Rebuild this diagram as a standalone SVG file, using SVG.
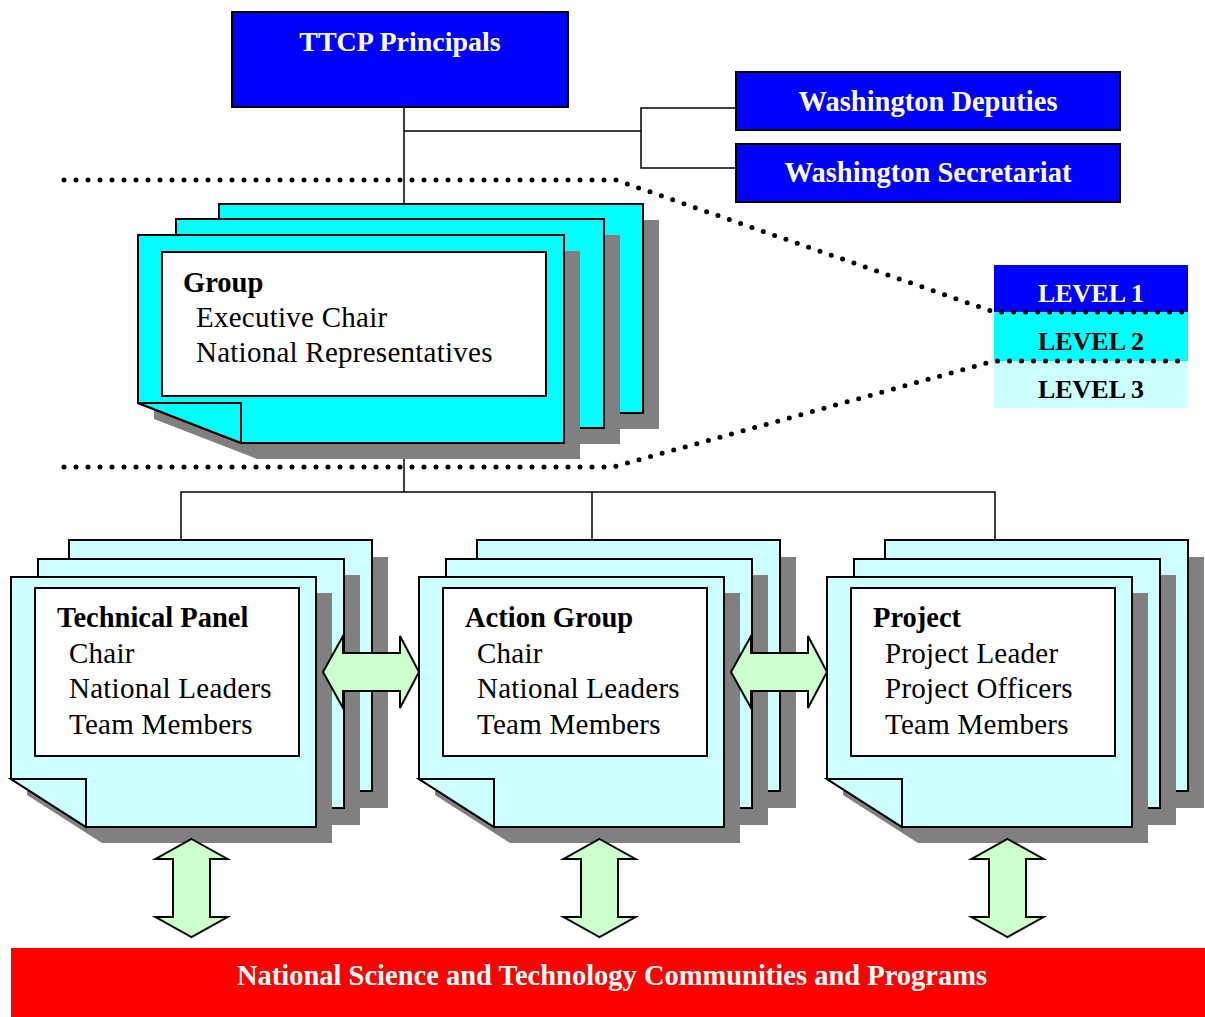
<svg xmlns="http://www.w3.org/2000/svg" xmlns:xlink="http://www.w3.org/1999/xlink" width="1205" height="1017" viewBox="0 0 1205 1017">
<style>
text{font-family:"Liberation Serif","Times New Roman",serif;font-size:29px;letter-spacing:0.25px;fill:#000}
.b{font-weight:bold;font-size:28.5px;letter-spacing:0}
.t{font-size:28px}
.w{fill:#fff}
.c{text-anchor:middle}
.lv{font-size:26px;font-weight:bold;text-anchor:middle;letter-spacing:0}
.blue{fill:#0000ff;stroke:#000;stroke-width:2}
.shadow{fill:#808080}
.pg{fill:#00ffff;stroke:#000;stroke-width:2}
.pl{fill:#ccffff;stroke:#000;stroke-width:2}
.inner{fill:#fff;stroke:#000;stroke-width:2}
.ln{fill:none;stroke:#000;stroke-width:1.5}
.dot{fill:none;stroke:#000;stroke-width:5;stroke-linecap:round;stroke-dasharray:0 12}
.arr{fill:#ccffcc;stroke:#000;stroke-width:2;stroke-linejoin:miter}
</style>
<defs>
<g id="smallStack">
<polygon class="shadow" points="85,557 388,557 388,808 160,808 85,760"/>
<polygon class="pl" points="69,540 372,540 372,791 144,791 69,743"/>
<polygon class="shadow" points="54,575 360,575 360,825 129,825 54,777"/>
<polygon class="pl" points="38,559 344,559 344,808 113,808 38,760"/>
<polygon class="shadow" points="27,795 27,593 332,593 332,843 102,843"/>
<polygon class="pl" points="11,577 316,577 316,827 86,827 11,779"/>
<polygon class="pl" points="11,779 86,779 86,827"/>
<rect class="inner" x="35" y="588" width="264" height="168"/>
</g>
<polygon id="hArrow" class="arr" points="323,672 343,636 343,653 400,653 400,636 419,672 400,708 400,691 343,691 343,708"/>
<polygon id="vArrow" class="arr" points="191.5,839 227.5,859 210,859 210,917 227.5,917 191.5,937 155.5,917 173,917 173,859 155.5,859"/>
</defs>

<g id="connectors">
<line class="ln" x1="404" y1="107" x2="404" y2="205"/>
<polyline class="ln" points="404,131 641,131"/>
<polyline class="ln" points="736,108 641,108 641,168 736,168"/>
<line class="ln" x1="404" y1="443" x2="404" y2="492"/>
<polyline class="ln" points="181,540 181,492 995,492 995,540"/>
<line class="ln" x1="592" y1="492" x2="592" y2="540"/>
</g>

<g id="ttcp-principals">
<rect class="blue" x="232" y="12" width="336" height="95"/>
<text class="b t w c" x="400" y="51">TTCP Principals</text>
</g>
<g id="washington-deputies">
<rect class="blue" x="736" y="72" width="384" height="58"/>
<text class="b w c" x="928" y="111">Washington Deputies</text>
</g>
<g id="washington-secretariat">
<rect class="blue" x="736" y="144" width="384" height="58"/>
<text class="b w c" x="928" y="182">Washington Secretariat</text>
</g>

<g id="group">
<polygon class="shadow" points="235,220 659,220 659,429 338,429 235,389"/>
<polygon class="pg" points="219,204 643,204 643,413 322,413 219,373"/>
<polygon class="shadow" points="192,235 620,235 620,444 295,444 192,404"/>
<polygon class="pg" points="176,219 604,219 604,428 279,428 176,388"/>
<polygon class="shadow" points="154,251 580,251 580,459 257,459 154,419"/>
<polygon class="pg" points="138,235 564,235 564,443 241,443 138,403"/>
<polygon class="pg" points="138,403 241,403 241,443"/>
<rect class="inner" x="162" y="252" width="384" height="144"/>
<text class="b" x="183" y="292">Group</text>
<text x="196" y="327">Executive Chair</text>
<text x="196" y="362">National Representatives</text>
</g>

<g id="levels">
<rect x="994" y="265" width="194" height="47" fill="#0000ff"/>
<rect x="994" y="312" width="194" height="49" fill="#00ffff"/>
<rect x="994" y="361" width="194" height="47" fill="#ccffff"/>
<text class="lv w" x="1091" y="302">LEVEL 1</text>
<text class="lv" x="1091" y="350">LEVEL 2</text>
<text class="lv" x="1091" y="398">LEVEL 3</text>
</g>

<g id="level-boundaries">
<polyline class="dot" points="64,180 616,180 994,312 1187,312"/>
<polyline class="dot" points="64,467 613,467 994,361 1187,361"/>
</g>

<g id="technical-panel">
<use xlink:href="#smallStack"/>
<text class="b" x="57" y="627">Technical Panel</text>
<text x="69" y="663">Chair</text>
<text x="69" y="698">National Leaders</text>
<text x="69" y="734">Team Members</text>
</g>
<g id="action-group">
<use xlink:href="#smallStack" x="408"/>
<text class="b" x="465" y="627">Action Group</text>
<text x="477" y="663">Chair</text>
<text x="477" y="698">National Leaders</text>
<text x="477" y="734">Team Members</text>
</g>
<g id="project">
<use xlink:href="#smallStack" x="816"/>
<text class="b" x="873" y="627">Project</text>
<text x="885" y="663">Project Leader</text>
<text x="885" y="698">Project Officers</text>
<text x="885" y="734">Team Members</text>
</g>

<g id="national-communities">
<rect x="11" y="948" width="1194" height="69" fill="#ff0000"/>
<text class="b w c" x="612" y="985">National Science and Technology Communities and Programs</text>
</g>

<g id="links">
<use xlink:href="#hArrow"/>
<use xlink:href="#hArrow" x="408"/>
<use xlink:href="#vArrow"/>
<use xlink:href="#vArrow" x="408"/>
<use xlink:href="#vArrow" x="816"/>
</g>
</svg>
